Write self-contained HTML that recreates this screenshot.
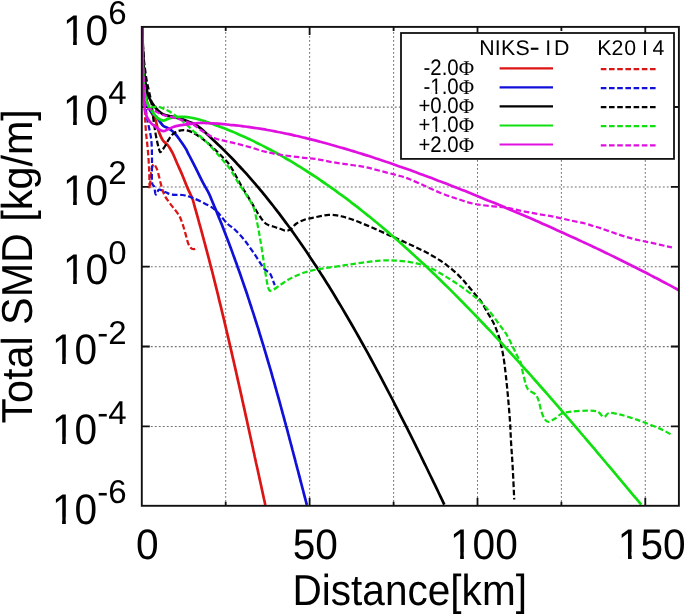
<!DOCTYPE html><html><head><meta charset="utf-8"><style>
html,body{margin:0;padding:0;background:#fff;}
body{width:685px;height:616px;overflow:hidden;}
svg{display:block;font-family:"Liberation Sans",sans-serif;text-rendering:geometricPrecision;}
</style></head><body><div style="will-change:transform;width:685px;height:616px">
<svg width="685" height="616" viewBox="0 0 685 616">
<rect width="685" height="616" fill="#fff"/>
<path d="M225.7,27.9V504.8 M309.6,27.9V504.8 M393.6,27.9V504.8 M477.5,27.9V504.8 M561.4,27.9V504.8 M645.3,27.9V504.8 M142.8,107.1H677.9 M142.8,186.9H677.9 M142.8,266.8H677.9 M142.8,346.6H677.9 M142.8,426.4H677.9" stroke="#747474" stroke-width="1.05" stroke-dasharray="1.9 2.1" fill="none"/>
<path d="M309.6,505.8V497.8 M309.6,26.9V34.9 M477.5,505.8V497.8 M477.5,26.9V34.9 M645.3,505.8V497.8 M645.3,26.9V34.9 M225.7,505.8V501.8 M225.7,26.9V30.9 M393.6,505.8V501.8 M393.6,26.9V30.9 M561.4,505.8V501.8 M561.4,26.9V30.9 M141.8,107.0H149.8 M678.9,107.0H670.9 M141.8,186.8H149.8 M678.9,186.8H670.9 M141.8,266.7H149.8 M678.9,266.7H670.9 M141.8,346.5H149.8 M678.9,346.5H670.9 M141.8,426.3H149.8 M678.9,426.3H670.9" stroke="#111" stroke-width="1.8" fill="none"/>
<defs><clipPath id="c"><rect x="141.8" y="26.9" width="537.1" height="478.9"/></clipPath></defs>
<g clip-path="url(#c)" fill="none" stroke-width="2.7" stroke-linejoin="round">
<path d="M142.0,27.0 C142.2,32.5 142.8,49.8 143.3,60.0 C143.8,70.2 144.3,80.7 145.0,88.0 C145.7,95.3 146.4,99.8 147.5,104.0 C148.6,108.2 150.3,110.2 151.7,113.0 C153.0,115.8 154.6,118.0 155.6,120.5 C156.6,123.0 156.8,125.6 157.6,128.0 C158.4,130.4 159.3,133.0 160.2,135.1 C161.1,137.2 161.9,139.0 162.8,140.3 C163.7,141.6 164.5,142.0 165.4,142.9 C166.3,143.8 167.1,144.4 168.0,145.5 C168.9,146.6 169.7,148.0 170.6,149.4 C171.5,150.8 172.1,151.8 173.2,154.2 C174.3,156.6 175.8,160.2 177.3,163.8 C178.9,167.4 180.8,171.4 182.5,175.5 C184.2,179.6 186.0,184.5 187.7,188.4 C189.4,192.3 191.4,196.1 192.4,198.8 C193.5,201.5 193.6,202.8 194.2,204.8 C194.7,206.8 195.3,208.8 195.9,210.8 C196.4,212.8 197.0,214.8 197.6,216.8 C198.1,218.8 198.7,220.8 199.2,222.8 C199.8,224.8 200.3,226.8 200.9,228.8 C201.4,230.8 202.0,232.8 202.5,234.8 C203.0,236.8 203.6,238.8 204.1,240.8 C204.7,242.8 205.2,244.8 205.7,246.8 C206.2,248.8 206.8,250.8 207.3,252.8 C207.8,254.8 208.3,256.8 208.9,258.8 C209.4,260.8 209.9,262.8 210.4,264.8 C210.9,266.8 211.4,268.8 212.0,270.8 C212.5,272.8 213.0,274.8 213.5,276.9 C214.0,278.9 214.5,280.9 215.0,282.9 C215.5,284.9 216.0,286.9 216.5,288.9 C217.0,290.9 217.5,292.9 218.0,294.9 C218.5,296.9 218.9,298.9 219.4,300.9 C219.9,302.9 220.4,304.9 220.9,306.9 C221.4,308.9 221.9,310.9 222.3,312.9 C222.8,314.9 223.3,316.9 223.8,318.9 C224.3,320.9 224.7,322.9 225.2,324.9 C225.7,326.9 226.1,328.9 226.6,330.9 C227.1,332.9 227.6,334.9 228.0,336.9 C228.5,338.9 229.0,340.9 229.4,342.9 C229.9,344.9 230.3,346.9 230.8,348.9 C231.3,350.9 231.7,352.9 232.2,354.9 C232.6,356.9 233.1,358.9 233.6,360.9 C234.0,362.9 234.5,364.9 234.9,366.9 C235.4,368.9 235.8,370.9 236.3,372.9 C236.7,374.9 237.2,376.9 237.6,378.9 C238.1,380.9 238.5,382.9 239.0,384.9 C239.4,386.9 239.9,388.9 240.3,390.9 C240.8,392.9 241.2,394.9 241.7,396.9 C242.1,398.9 242.5,400.9 243.0,402.9 C243.4,404.9 243.9,406.9 244.3,408.9 C244.8,410.9 245.2,412.9 245.6,414.9 C246.1,416.9 246.5,418.9 247.0,420.9 C247.4,422.9 247.8,424.9 248.3,426.9 C248.7,429.0 249.2,431.0 249.6,433.0 C250.0,435.0 250.5,437.0 250.9,439.0 C251.3,441.0 251.8,443.0 252.2,445.0 C252.7,447.0 253.1,449.0 253.5,451.0 C254.0,453.0 254.4,455.0 254.8,457.0 C255.3,459.0 255.7,461.0 256.1,463.0 C256.6,465.0 257.0,467.0 257.5,469.0 C257.9,471.0 258.3,473.0 258.8,475.0 C259.2,477.0 259.6,479.0 260.1,481.0 C260.5,483.0 261.0,485.0 261.4,487.0 C261.8,489.0 262.3,491.0 262.7,493.0 C263.1,495.0 263.6,497.0 264.0,499.0 C264.5,501.0 265.1,504.0 265.3,505.0" stroke="#dc1414"/>
<path d="M142.0,27.0 C142.2,34.2 143.0,56.2 143.5,70.0 C144.0,83.8 144.4,100.0 144.8,110.0 C145.2,120.0 145.3,123.4 145.8,130.0 C146.3,136.6 147.2,143.0 147.8,149.5 C148.4,156.0 148.8,162.5 149.1,169.0 C149.4,175.5 149.4,187.8 149.7,188.4 C150.0,189.1 150.4,176.9 151.0,172.9 C151.6,168.9 152.5,165.5 153.3,164.4 C154.1,163.3 154.8,165.2 155.6,166.4 C156.3,167.6 156.9,168.6 157.8,171.6 C158.7,174.6 159.9,180.6 161.0,184.5 C162.1,188.4 162.9,191.9 164.3,194.9 C165.7,197.9 167.7,200.2 169.5,202.7 C171.3,205.2 173.2,207.4 174.9,209.7 C176.6,212.0 178.4,214.2 179.7,216.6 C181.0,219.0 181.7,221.4 182.7,224.3 C183.7,227.2 184.7,231.0 185.6,234.1 C186.5,237.2 187.2,240.6 188.0,242.8 C188.8,245.0 189.5,246.4 190.4,247.5 C191.3,248.6 192.2,249.2 193.4,249.2 C194.6,249.2 197.1,247.8 197.8,247.5" stroke="#dc1414" stroke-width="2.25" stroke-dasharray="5.6 2.6"/>
<path d="M142.0,27.0 C142.2,33.3 142.8,54.2 143.3,65.0 C143.8,75.8 144.1,85.3 144.8,92.0 C145.5,98.7 146.6,101.8 147.5,105.0 C148.4,108.2 149.5,109.4 150.5,111.0 C151.5,112.6 152.4,113.4 153.5,114.5 C154.6,115.6 155.9,116.2 157.0,117.5 C158.1,118.8 159.1,120.7 160.2,122.1 C161.3,123.5 162.1,125.0 163.4,126.0 C164.7,127.0 166.6,127.4 168.0,128.2 C169.4,129.0 170.6,129.8 171.9,130.8 C173.2,131.9 174.5,133.0 175.8,134.5 C177.1,136.0 178.5,138.1 179.7,139.7 C180.9,141.3 181.8,142.6 182.9,144.2 C184.0,145.8 185.2,147.6 186.2,149.4 C187.2,151.2 187.4,151.9 189.0,155.0 C190.6,158.1 193.3,163.4 195.5,167.7 C197.7,172.0 199.7,176.3 201.9,180.6 C204.1,184.9 207.4,190.4 209.0,193.6 C210.6,196.8 210.7,197.7 211.6,199.7 C212.4,201.7 213.3,203.8 214.1,205.8 C215.0,207.8 215.8,209.9 216.7,211.9 C217.5,214.0 218.3,216.0 219.1,218.0 C220.0,220.1 220.8,222.1 221.6,224.1 C222.4,226.2 223.2,228.2 224.0,230.2 C224.8,232.3 225.6,234.3 226.3,236.3 C227.1,238.4 227.9,240.4 228.7,242.4 C229.4,244.5 230.2,246.5 231.0,248.6 C231.7,250.6 232.5,252.6 233.2,254.7 C234.0,256.7 234.7,258.7 235.4,260.8 C236.2,262.8 236.9,264.8 237.6,266.9 C238.4,268.9 239.1,270.9 239.8,273.0 C240.5,275.0 241.2,277.0 241.9,279.1 C242.6,281.1 243.3,283.2 244.0,285.2 C244.7,287.2 245.4,289.3 246.1,291.3 C246.8,293.3 247.5,295.4 248.1,297.4 C248.8,299.4 249.5,301.5 250.1,303.5 C250.8,305.5 251.5,307.6 252.1,309.6 C252.8,311.6 253.5,313.7 254.1,315.7 C254.8,317.8 255.4,319.8 256.0,321.8 C256.7,323.9 257.3,325.9 258.0,327.9 C258.6,330.0 259.2,332.0 259.8,334.0 C260.5,336.1 261.1,338.1 261.7,340.1 C262.3,342.2 263.0,344.2 263.6,346.2 C264.2,348.3 264.8,350.3 265.4,352.4 C266.0,354.4 266.6,356.4 267.2,358.5 C267.8,360.5 268.4,362.5 269.0,364.6 C269.6,366.6 270.2,368.6 270.8,370.7 C271.4,372.7 271.9,374.7 272.5,376.8 C273.1,378.8 273.7,380.8 274.3,382.9 C274.8,384.9 275.4,387.0 276.0,389.0 C276.5,391.0 277.1,393.1 277.7,395.1 C278.3,397.1 278.8,399.2 279.4,401.2 C279.9,403.2 280.5,405.3 281.1,407.3 C281.6,409.3 282.2,411.4 282.7,413.4 C283.3,415.4 283.8,417.5 284.4,419.5 C284.9,421.6 285.5,423.6 286.0,425.6 C286.6,427.7 287.1,429.7 287.7,431.7 C288.2,433.8 288.8,435.8 289.3,437.8 C289.8,439.9 290.4,441.9 290.9,443.9 C291.5,446.0 292.0,448.0 292.5,450.0 C293.1,452.1 293.6,454.1 294.1,456.2 C294.7,458.2 295.2,460.2 295.7,462.3 C296.3,464.3 296.8,466.3 297.3,468.4 C297.9,470.4 298.4,472.4 298.9,474.5 C299.5,476.5 300.0,478.5 300.5,480.6 C301.0,482.6 301.6,484.6 302.1,486.7 C302.6,488.7 303.2,490.8 303.7,492.8 C304.2,494.8 304.7,496.9 305.3,498.9 C305.8,500.9 306.6,504.0 306.9,505.0" stroke="#1010d8"/>
<path d="M142.0,27.0 C142.3,34.2 143.3,56.2 144.0,70.0 C144.7,83.8 145.2,100.8 146.0,110.0 C146.8,119.2 147.6,120.0 148.5,125.0 C149.4,130.0 150.7,134.2 151.3,140.0 C151.9,145.8 151.9,153.0 152.0,160.0 C152.1,167.0 151.6,177.5 152.0,182.0 C152.4,186.5 153.7,185.0 154.3,187.1 C154.9,189.2 155.0,194.1 155.8,194.5 C156.6,194.9 157.5,190.1 159.1,189.7 C160.7,189.3 163.4,191.5 165.6,192.3 C167.8,193.1 169.3,194.2 172.1,194.6 C174.9,195.0 179.2,194.5 182.5,195.0 C185.8,195.5 188.3,196.3 191.6,197.5 C194.8,198.7 198.3,200.3 202.0,202.1 C205.7,203.9 210.6,206.3 213.6,208.5 C216.6,210.7 217.7,212.4 220.0,215.0 C222.3,217.6 225.2,221.6 227.7,224.0 C230.2,226.4 232.2,227.0 235.0,229.7 C237.8,232.4 241.4,236.3 244.7,240.4 C247.9,244.5 251.2,249.4 254.5,254.1 C257.8,258.8 261.6,265.4 264.2,268.7 C266.8,271.9 268.5,271.2 270.1,273.6 C271.7,276.0 273.2,281.4 274.0,283.3 C274.8,285.2 274.8,284.7 275.0,285.0" stroke="#1010d8" stroke-width="2.25" stroke-dasharray="5.6 2.6"/>
<path d="M142.0,27.0 C142.1,30.8 142.6,43.7 142.8,50.0 C143.1,56.3 143.1,60.0 143.5,65.0 C143.9,70.0 144.3,75.3 145.0,80.0 C145.7,84.7 146.5,89.5 147.5,93.0 C148.5,96.5 149.6,98.8 150.8,101.0 C152.0,103.2 153.3,104.8 154.6,106.5 C155.9,108.2 157.0,109.7 158.5,111.0 C160.0,112.3 161.6,113.7 163.4,114.5 C165.2,115.3 167.3,115.5 169.2,116.0 C171.1,116.5 173.0,116.8 175.0,117.3 C177.0,117.8 178.9,118.2 181.0,118.9 C183.1,119.6 185.3,120.5 187.5,121.3 C189.7,122.1 191.9,122.7 194.0,123.8 C196.1,124.9 198.0,126.3 200.0,127.9 C202.0,129.5 204.1,131.5 206.1,133.3 C208.1,135.1 210.2,137.0 212.2,138.9 C214.3,140.8 216.3,142.7 218.3,144.7 C220.4,146.6 222.4,148.6 224.4,150.6 C226.5,152.7 228.5,154.7 230.5,156.8 C232.6,158.9 234.6,161.0 236.6,163.2 C238.7,165.4 240.7,167.6 242.8,169.8 C244.8,172.0 246.8,174.3 248.9,176.6 C250.9,178.9 252.9,181.2 255.0,183.6 C257.0,186.0 259.0,188.4 261.1,190.9 C263.1,193.3 265.1,195.8 267.2,198.3 C269.2,200.8 271.3,203.4 273.3,206.0 C275.3,208.6 277.4,211.2 279.4,213.9 C281.4,216.6 283.5,219.3 285.5,222.1 C287.5,224.8 289.6,227.6 291.6,230.4 C293.6,233.2 295.7,236.1 297.7,239.0 C299.8,241.9 301.8,244.9 303.8,247.8 C305.9,250.8 307.9,253.8 309.9,256.9 C312.0,259.9 314.0,263.0 316.0,266.1 C318.1,269.3 320.1,272.4 322.1,275.6 C324.2,278.8 326.2,282.0 328.3,285.3 C330.3,288.6 332.3,291.9 334.4,295.2 C336.4,298.6 338.4,302.0 340.5,305.4 C342.5,308.8 344.5,312.2 346.6,315.7 C348.6,319.2 350.7,322.7 352.7,326.2 C354.7,329.8 356.8,333.4 358.8,337.0 C360.8,340.6 362.9,344.2 364.9,347.9 C366.9,351.6 369.0,355.3 371.0,359.0 C373.0,362.8 375.1,366.6 377.1,370.4 C379.2,374.2 381.2,378.0 383.2,381.8 C385.3,385.7 387.3,389.6 389.3,393.5 C391.4,397.4 393.4,401.3 395.4,405.3 C397.5,409.3 399.5,413.3 401.5,417.3 C403.6,421.3 405.6,425.3 407.7,429.4 C409.7,433.4 411.7,437.5 413.8,441.6 C415.8,445.7 417.8,449.9 419.9,454.0 C421.9,458.1 423.9,462.3 426.0,466.5 C428.0,470.7 430.0,474.9 432.1,479.1 C434.1,483.3 436.2,487.5 438.2,491.8 C440.2,496.0 443.3,502.4 444.3,504.6" stroke="#000000"/>
<path d="M142.0,27.0 C142.1,29.2 142.6,35.3 142.8,40.0 C143.1,44.7 143.2,50.8 143.5,55.0 C143.8,59.2 144.0,60.9 144.5,65.0 C145.0,69.1 145.8,75.3 146.5,79.5 C147.2,83.7 148.1,87.1 148.7,90.0 C149.3,92.9 149.8,94.8 150.3,97.0 C150.8,99.2 151.1,100.5 151.5,103.0 C151.9,105.5 152.1,108.8 152.5,112.0 C152.9,115.2 153.3,118.7 153.8,122.0 C154.3,125.3 154.8,128.8 155.3,132.0 C155.8,135.2 156.4,138.2 157.0,141.0 C157.6,143.8 158.4,146.9 158.9,148.8 C159.4,150.7 159.7,151.9 160.2,152.2 C160.7,152.4 161.2,151.4 162.1,150.3 C163.0,149.2 164.3,147.3 165.4,145.5 C166.5,143.7 167.5,141.4 168.6,139.7 C169.7,138.0 170.7,136.4 171.9,135.1 C173.1,133.8 174.3,132.7 175.8,131.9 C177.3,131.1 179.3,130.6 181.0,130.3 C182.7,130.0 184.5,130.0 186.2,130.3 C187.9,130.6 189.9,131.3 191.4,131.9 C192.9,132.5 192.8,132.4 195.0,133.8 C197.2,135.2 201.2,137.8 204.5,140.4 C207.8,143.0 211.9,146.7 214.9,149.5 C217.9,152.3 220.2,154.6 222.7,157.3 C225.2,160.0 227.0,161.0 230.0,165.5 C233.0,170.0 237.5,179.1 240.6,184.5 C243.7,189.9 246.3,193.9 248.7,197.9 C251.1,201.9 253.1,205.3 255.0,208.5 C256.9,211.7 258.4,214.4 260.3,217.0 C262.2,219.6 263.9,222.3 266.2,223.9 C268.5,225.5 271.7,226.0 274.0,226.8 C276.3,227.6 277.9,228.0 280.0,228.7 C282.1,229.4 284.6,230.8 286.5,230.8 C288.4,230.8 289.8,229.9 291.4,228.7 C293.0,227.5 294.0,225.3 296.2,223.8 C298.4,222.3 301.7,220.7 304.4,219.7 C307.1,218.7 309.8,218.4 312.5,217.8 C315.2,217.2 317.9,216.7 320.6,216.2 C323.3,215.7 326.0,215.0 328.7,214.9 C331.4,214.8 334.4,215.0 336.8,215.3 C339.2,215.6 340.9,216.2 343.0,216.7 C345.0,217.2 347.1,217.9 349.1,218.5 C351.2,219.2 353.2,219.9 355.3,220.7 C357.3,221.4 359.4,222.2 361.4,223.1 C363.5,223.9 365.5,224.8 367.6,225.6 C369.6,226.5 371.7,227.4 373.7,228.3 C375.8,229.2 377.8,230.1 379.9,231.0 C381.9,231.9 384.0,232.8 386.0,233.7 C388.1,234.7 390.1,235.6 392.2,236.5 C394.2,237.4 396.3,238.3 398.3,239.2 C400.4,240.1 402.4,241.1 404.5,242.0 C406.5,242.9 408.6,243.8 410.6,244.8 C412.7,245.7 414.7,246.7 416.8,247.7 C418.8,248.7 420.9,249.7 422.9,250.7 C425.0,251.7 427.0,252.8 429.1,253.9 C431.1,255.0 433.2,256.2 435.2,257.4 C437.3,258.7 439.3,260.0 441.4,261.3 C443.4,262.7 445.5,264.2 447.5,265.8 C449.6,267.3 451.6,269.0 453.7,270.8 C455.7,272.6 457.8,274.5 459.8,276.6 C461.9,278.7 463.6,280.6 466.0,283.4 C468.4,286.1 471.7,290.1 474.2,293.1 C476.7,296.1 478.9,298.1 481.1,301.4 C483.3,304.7 485.4,308.9 487.6,312.7 C489.8,316.5 492.2,320.0 494.1,324.1 C496.0,328.2 497.6,332.8 499.0,337.1 C500.4,341.4 501.3,345.5 502.2,350.1 C503.1,354.7 503.8,358.5 504.6,364.7 C505.4,370.9 506.2,378.4 507.1,387.4 C508.0,396.4 509.1,409.4 509.8,418.7 C510.5,428.0 510.6,435.0 511.1,443.1 C511.6,451.2 512.2,458.0 512.7,467.4 C513.2,476.8 514.0,494.1 514.2,499.5" stroke="#000000" stroke-width="2.25" stroke-dasharray="5.6 2.6"/>
<path d="M142.0,27.0 C142.2,34.2 142.5,58.7 143.0,70.0 C143.5,81.3 144.1,89.0 145.0,95.0 C145.9,101.0 147.4,103.4 148.5,106.0 C149.6,108.6 150.4,109.0 151.5,110.5 C152.6,112.0 153.8,113.9 155.0,115.3 C156.2,116.7 157.5,118.0 158.9,118.9 C160.3,119.8 161.9,120.6 163.4,120.6 C164.9,120.6 166.2,119.5 168.0,118.9 C169.8,118.3 171.9,117.4 174.5,117.1 C177.1,116.8 181.2,116.8 183.8,116.9 C186.4,117.0 187.3,117.0 190.0,117.5 C192.7,118.0 197.3,119.0 200.0,119.7 C202.7,120.4 204.0,121.0 206.0,121.7 C208.1,122.4 210.1,123.1 212.1,123.8 C214.1,124.5 216.1,125.3 218.1,126.0 C220.2,126.8 222.2,127.5 224.2,128.3 C226.2,129.1 228.2,129.9 230.2,130.8 C232.2,131.6 234.3,132.4 236.3,133.3 C238.3,134.2 240.3,135.1 242.3,136.0 C244.3,136.9 246.3,137.8 248.4,138.7 C250.4,139.7 252.4,140.6 254.4,141.6 C256.4,142.6 258.4,143.6 260.5,144.6 C262.5,145.6 264.5,146.7 266.5,147.7 C268.5,148.8 270.5,149.8 272.5,150.9 C274.6,152.0 276.6,153.1 278.6,154.2 C280.6,155.4 282.6,156.5 284.6,157.7 C286.6,158.8 288.7,160.0 290.7,161.2 C292.7,162.4 294.7,163.6 296.7,164.9 C298.7,166.1 300.8,167.3 302.8,168.6 C304.8,169.9 306.8,171.2 308.8,172.5 C310.8,173.8 312.8,175.1 314.9,176.4 C316.9,177.8 318.9,179.1 320.9,180.5 C322.9,181.8 324.9,183.2 326.9,184.6 C329.0,186.0 331.0,187.5 333.0,188.9 C335.0,190.3 337.0,191.8 339.0,193.3 C341.1,194.7 343.1,196.2 345.1,197.7 C347.1,199.2 349.1,200.7 351.1,202.3 C353.1,203.8 355.2,205.4 357.2,206.9 C359.2,208.5 361.2,210.1 363.2,211.7 C365.2,213.3 367.3,214.9 369.3,216.5 C371.3,218.2 373.3,219.8 375.3,221.5 C377.3,223.1 379.3,224.8 381.4,226.5 C383.4,228.2 385.4,229.9 387.4,231.6 C389.4,233.3 391.4,235.1 393.4,236.8 C395.5,238.6 397.5,240.3 399.5,242.1 C401.5,243.9 403.5,245.7 405.5,247.5 C407.6,249.3 409.6,251.1 411.6,253.0 C413.6,254.8 415.6,256.6 417.6,258.5 C419.6,260.4 421.7,262.2 423.7,264.1 C425.7,266.0 427.7,267.9 429.7,269.8 C431.7,271.8 433.7,273.7 435.8,275.6 C437.8,277.6 439.8,279.5 441.8,281.5 C443.8,283.5 445.8,285.4 447.9,287.4 C449.9,289.4 451.9,291.4 453.9,293.4 C455.9,295.5 457.9,297.5 459.9,299.5 C462.0,301.6 464.0,303.6 466.0,305.7 C468.0,307.7 470.0,309.8 472.0,311.9 C474.0,314.0 476.1,316.1 478.1,318.2 C480.1,320.3 482.1,322.4 484.1,324.5 C486.1,326.6 488.2,328.8 490.2,330.9 C492.2,333.1 494.2,335.2 496.2,337.4 C498.2,339.6 500.2,341.7 502.3,343.9 C504.3,346.1 506.3,348.3 508.3,350.5 C510.3,352.7 512.3,354.9 514.4,357.1 C516.4,359.3 518.4,361.6 520.4,363.8 C522.4,366.0 524.4,368.3 526.4,370.5 C528.5,372.8 530.5,375.1 532.5,377.3 C534.5,379.6 536.5,381.9 538.5,384.2 C540.5,386.4 542.6,388.7 544.6,391.0 C546.6,393.3 548.6,395.6 550.6,397.9 C552.6,400.2 554.7,402.6 556.7,404.9 C558.7,407.2 560.7,409.5 562.7,411.9 C564.7,414.2 566.7,416.5 568.8,418.9 C570.8,421.2 572.8,423.6 574.8,425.9 C576.8,428.3 578.8,430.6 580.8,433.0 C582.9,435.4 584.9,437.7 586.9,440.1 C588.9,442.5 590.9,444.8 592.9,447.2 C595.0,449.6 597.0,452.0 599.0,454.3 C601.0,456.7 603.0,459.1 605.0,461.5 C607.0,463.9 609.1,466.3 611.1,468.7 C613.1,471.1 615.1,473.5 617.1,475.9 C619.1,478.3 621.1,480.7 623.2,483.1 C625.2,485.5 627.2,487.9 629.2,490.3 C631.2,492.7 633.2,495.1 635.3,497.5 C637.3,499.9 640.3,503.5 641.3,504.7" stroke="#10e010"/>
<path d="M142.0,27.0 C142.2,34.2 142.6,58.2 143.2,70.0 C143.8,81.8 144.5,92.1 145.5,98.0 C146.5,103.9 147.8,104.0 149.0,105.5 C150.2,107.0 151.3,107.0 152.7,107.2 C154.1,107.4 155.7,106.5 157.5,106.7 C159.3,106.9 161.1,107.6 163.4,108.6 C165.7,109.6 168.8,111.0 171.2,112.5 C173.6,114.0 176.1,116.1 178.0,117.6 C179.9,119.1 181.1,120.0 182.9,121.5 C184.7,123.0 187.0,125.0 188.8,126.7 C190.7,128.4 191.8,129.8 194.0,131.7 C196.2,133.5 198.9,135.1 202.0,137.8 C205.1,140.6 209.1,144.7 212.3,148.2 C215.5,151.7 218.5,155.1 221.4,158.6 C224.3,162.1 227.1,164.8 230.0,169.0 C232.9,173.2 236.1,179.5 238.9,183.9 C241.7,188.3 244.3,191.7 246.7,195.6 C249.1,199.5 251.9,203.4 253.5,207.3 C255.1,211.2 255.4,214.4 256.4,219.0 C257.4,223.6 258.4,229.1 259.4,234.6 C260.4,240.1 261.3,245.9 262.3,252.1 C263.3,258.3 264.2,265.8 265.2,271.6 C266.2,277.5 267.1,284.0 268.1,287.2 C269.1,290.4 269.2,291.0 271.1,290.7 C273.1,290.4 277.0,287.1 279.8,285.3 C282.6,283.5 285.4,281.4 288.1,279.8 C290.8,278.2 293.5,276.9 296.2,275.7 C298.9,274.5 301.7,273.4 304.4,272.5 C307.1,271.6 309.8,271.0 312.5,270.4 C315.2,269.8 317.9,269.3 320.6,268.8 C323.3,268.3 324.6,268.2 328.7,267.6 C332.8,267.0 339.5,266.0 344.9,265.2 C350.3,264.4 355.3,263.6 361.2,262.8 C367.1,262.0 374.2,261.0 380.0,260.6 C385.8,260.2 390.8,260.3 396.2,260.6 C401.6,260.9 407.1,261.4 412.5,262.5 C417.9,263.6 423.3,264.9 428.7,267.1 C434.1,269.4 439.5,272.8 444.9,276.0 C450.3,279.2 456.3,283.2 461.2,286.6 C466.1,290.0 471.1,293.9 474.2,296.3 C477.3,298.7 477.5,298.7 480.0,301.2 C482.5,303.7 486.0,307.3 489.2,311.1 C492.4,314.9 496.0,320.0 499.0,324.1 C502.0,328.2 504.7,331.4 507.1,335.5 C509.5,339.6 511.7,344.6 513.6,348.4 C515.5,352.2 517.2,355.8 518.4,358.2 C519.6,360.6 520.2,360.9 520.9,363.1 C521.6,365.3 521.8,368.2 522.5,371.2 C523.2,374.2 524.2,378.4 524.9,381.0 C525.6,383.6 525.8,384.9 526.5,386.5 C527.2,388.1 527.5,389.0 529.0,390.3 C530.5,391.6 533.9,392.6 535.5,394.4 C537.1,396.1 537.8,398.1 538.7,400.8 C539.6,403.5 540.2,407.6 541.1,410.6 C542.0,413.6 543.2,416.8 544.4,418.7 C545.6,420.6 546.6,421.9 548.4,421.9 C550.1,421.9 552.7,420.0 554.9,418.7 C557.1,417.4 558.7,415.0 561.4,413.8 C564.1,412.6 567.0,412.2 571.2,411.7 C575.4,411.2 582.4,410.7 586.8,410.7 C591.2,410.7 594.7,410.6 597.5,411.6 C600.3,412.7 601.9,416.8 603.8,417.0 C605.7,417.2 606.6,413.3 609.1,412.9 C611.6,412.4 615.2,413.5 618.9,414.3 C622.6,415.1 627.2,416.6 631.4,417.9 C635.6,419.2 639.1,420.5 643.9,422.3 C648.7,424.1 655.5,426.6 660.0,428.6 C664.5,430.6 669.2,433.5 671.0,434.5" stroke="#10e010" stroke-width="2.25" stroke-dasharray="5.6 2.6"/>
<path d="M142.0,27.0 C142.1,32.5 142.2,50.3 142.3,60.0 C142.5,69.7 142.6,77.8 142.9,85.0 C143.2,92.2 143.4,97.9 144.0,103.0 C144.6,108.1 145.2,112.2 146.3,115.5 C147.4,118.8 149.1,120.7 150.5,122.5 C151.9,124.3 153.6,125.1 155.0,126.2 C156.4,127.3 157.5,128.5 158.9,129.3 C160.3,130.1 161.9,131.2 163.4,131.2 C164.9,131.2 166.4,130.0 168.0,129.3 C169.6,128.6 171.2,127.7 173.2,127.0 C175.1,126.3 177.5,125.8 179.7,125.4 C181.9,125.0 183.6,124.7 186.2,124.4 C188.8,124.1 192.7,123.7 195.0,123.4 C197.3,123.1 198.2,122.9 200.0,122.9 C201.8,122.8 204.0,123.0 206.0,123.1 C208.0,123.2 210.0,123.3 212.0,123.4 C214.0,123.5 216.0,123.6 218.0,123.7 C220.0,123.9 222.0,124.0 224.0,124.2 C226.0,124.4 228.0,124.6 230.0,124.8 C232.0,124.9 234.0,125.2 236.0,125.4 C238.0,125.6 240.0,125.8 242.0,126.1 C244.0,126.4 246.0,126.6 248.0,126.9 C250.0,127.2 252.0,127.5 254.0,127.8 C256.0,128.1 258.0,128.4 260.0,128.7 C262.0,129.0 264.0,129.4 266.0,129.7 C268.0,130.1 270.0,130.4 272.0,130.8 C274.0,131.2 276.0,131.6 278.0,132.0 C280.0,132.3 282.0,132.8 284.0,133.2 C286.0,133.6 288.0,134.0 290.0,134.4 C292.0,134.9 294.0,135.3 296.0,135.8 C298.0,136.2 300.0,136.7 302.0,137.2 C304.0,137.7 306.0,138.1 308.0,138.6 C310.0,139.1 312.0,139.6 314.0,140.1 C316.0,140.6 318.0,141.2 320.0,141.7 C322.0,142.2 324.0,142.8 326.0,143.3 C328.0,143.8 330.0,144.4 332.0,145.0 C334.0,145.5 336.0,146.1 338.0,146.7 C340.0,147.2 342.0,147.8 344.0,148.4 C346.0,149.0 348.0,149.6 350.0,150.2 C352.0,150.8 354.0,151.4 356.0,152.0 C358.0,152.6 360.0,153.3 362.0,153.9 C364.0,154.5 366.0,155.2 368.0,155.8 C370.0,156.4 372.0,157.1 374.0,157.8 C376.0,158.4 378.0,159.1 380.0,159.7 C382.0,160.4 384.0,161.1 386.0,161.8 C388.0,162.4 390.0,163.1 392.0,163.8 C394.0,164.5 396.0,165.2 398.0,165.9 C400.0,166.6 402.0,167.3 404.0,168.0 C406.0,168.7 408.0,169.4 410.0,170.1 C412.0,170.9 414.0,171.6 416.0,172.3 C418.0,173.0 420.0,173.8 422.0,174.5 C424.0,175.3 426.0,176.0 428.0,176.7 C430.0,177.5 432.0,178.2 434.0,179.0 C436.0,179.8 438.0,180.5 440.0,181.3 C442.0,182.0 444.0,182.8 446.0,183.6 C448.0,184.4 450.0,185.1 452.0,185.9 C454.0,186.7 456.0,187.5 458.0,188.3 C460.0,189.1 462.0,189.8 464.0,190.6 C466.0,191.4 468.0,192.2 470.0,193.0 C472.0,193.8 474.0,194.6 476.0,195.5 C478.0,196.3 480.0,197.1 482.0,197.9 C484.0,198.7 486.0,199.5 488.0,200.4 C490.0,201.2 492.0,202.0 494.0,202.8 C496.0,203.7 498.0,204.5 500.0,205.3 C502.0,206.2 504.0,207.0 506.0,207.9 C508.0,208.7 510.0,209.6 512.0,210.4 C514.0,211.3 516.0,212.1 518.0,213.0 C520.0,213.8 522.0,214.7 524.0,215.5 C526.0,216.4 528.0,217.3 530.0,218.1 C532.0,219.0 534.0,219.9 536.0,220.8 C538.0,221.6 540.0,222.5 542.0,223.4 C544.0,224.3 546.0,225.2 548.0,226.1 C550.0,227.0 552.0,227.9 554.0,228.8 C556.0,229.7 558.0,230.6 560.0,231.5 C562.0,232.4 564.0,233.3 566.0,234.2 C568.0,235.1 570.0,236.0 572.0,236.9 C574.0,237.8 576.0,238.8 578.0,239.7 C580.0,240.6 582.0,241.6 584.0,242.5 C586.0,243.4 588.0,244.4 590.0,245.3 C592.0,246.2 594.0,247.2 596.0,248.1 C598.0,249.1 600.0,250.0 602.0,251.0 C604.0,252.0 606.0,252.9 608.0,253.9 C610.0,254.9 612.0,255.8 614.0,256.8 C616.0,257.8 618.0,258.8 620.0,259.7 C622.0,260.7 624.0,261.7 626.0,262.7 C628.0,263.7 630.0,264.7 632.0,265.7 C634.0,266.7 636.0,267.7 638.0,268.7 C640.0,269.7 642.0,270.8 644.0,271.8 C646.0,272.8 648.0,273.8 650.0,274.9 C652.0,275.9 654.0,277.0 656.0,278.0 C658.0,279.0 660.0,280.1 662.0,281.2 C664.0,282.2 666.0,283.3 668.0,284.4 C670.0,285.4 672.0,286.5 674.0,287.6 C676.0,288.7 679.0,290.3 680.0,290.9" stroke="#e010e0"/>
<path d="M142.0,27.0 C142.1,30.0 142.3,38.7 142.5,45.0 C142.7,51.3 142.9,58.3 143.2,65.0 C143.4,71.7 143.8,79.2 144.0,85.0 C144.2,90.8 144.2,96.2 144.6,100.0 C145.0,103.8 145.6,106.5 146.5,108.0 C147.4,109.5 148.8,108.8 150.0,109.2 C151.2,109.6 152.0,109.5 153.6,110.2 C155.2,110.9 157.8,112.7 159.5,113.5 C161.2,114.3 162.4,114.8 164.0,115.3 C165.6,115.8 166.9,115.9 169.3,116.5 C171.7,117.1 175.4,118.1 178.4,119.0 C181.4,119.9 184.9,121.1 187.5,122.1 C190.1,123.1 191.9,123.8 194.0,125.0 C196.1,126.2 197.7,127.9 200.0,129.5 C202.3,131.1 205.4,133.1 208.1,134.6 C210.8,136.1 212.1,137.3 216.2,138.7 C220.3,140.0 227.1,141.3 232.5,142.7 C237.9,144.0 243.3,145.3 248.7,146.8 C254.1,148.3 259.5,150.3 264.9,151.7 C270.3,153.0 275.3,154.0 281.2,154.9 C287.1,155.8 294.2,156.6 300.0,157.3 C305.8,158.0 310.8,158.2 316.2,159.0 C321.6,159.8 327.1,161.3 332.5,162.2 C337.9,163.1 343.3,163.8 348.7,164.6 C354.1,165.4 359.5,166.0 364.9,167.1 C370.3,168.2 375.3,169.6 381.2,171.1 C387.1,172.6 395.2,174.7 400.0,176.0 C404.8,177.3 405.6,177.6 409.7,179.2 C413.8,180.8 419.2,183.4 424.4,185.7 C429.5,188.0 435.2,190.8 440.6,193.0 C446.0,195.2 451.4,196.9 456.8,198.7 C462.2,200.5 467.7,202.4 473.1,203.6 C478.5,204.8 483.8,205.3 489.3,206.0 C494.8,206.7 500.7,206.7 506.2,207.6 C511.7,208.5 517.1,210.1 522.5,211.2 C527.9,212.3 533.3,213.1 538.7,214.1 C544.1,215.1 549.5,215.9 554.9,217.0 C560.3,218.1 566.2,219.5 571.2,220.6 C576.2,221.7 581.4,222.6 585.0,223.5 C588.6,224.4 590.4,225.2 593.1,226.0 C595.8,226.8 597.1,227.1 601.2,228.4 C605.3,229.8 612.1,232.3 617.5,234.1 C622.9,235.9 628.3,237.6 633.7,239.0 C639.1,240.4 643.5,241.1 649.9,242.5 C656.3,243.9 668.2,246.6 671.9,247.4" stroke="#e010e0" stroke-width="2.25" stroke-dasharray="5.6 2.6"/>
</g>
<rect x="401.0" y="33.0" width="273.0" height="125.9" fill="#fff" stroke="#111" stroke-width="1.8"/>
<g font-size="21.3" letter-spacing="0.25">
<text x="479.2" y="54.8">NIKS</text>
</g>
<rect x="530.8" y="47.7" width="7.6" height="2.1" fill="#000"/>
<g font-size="21.3">
<text x="545.3" y="54.8">I</text><text x="553.9" y="54.8">D</text>
<text x="597.2" y="54.8">K</text><text x="611.4" y="54.8">2</text><text x="624.2" y="54.8">0</text><text x="642" y="54.8">I</text><text x="652.6" y="54.8">4</text>
</g>
<text transform="translate(423.53,75.30) scale(0.910,1.000)" font-size="22.4">-2.0</text>
<text x="458.65" y="75.3" font-size="21" font-family="Liberation Serif">&#934;</text>
<path d="M499.6,68.3H553" stroke="#dc1414" stroke-width="2.2"/>
<path d="M600.8,69.1H656" stroke="#dc1414" stroke-width="2.2" stroke-dasharray="5.6 2.6"/>
<clipPath id="k1"><path clip-rule="evenodd" d="M-500,-500H2000V500H-500Z M8.77,-3.61H13.06V3.00H8.77Z M15.10,-3.61H19.27V3.00H15.10Z"/></clipPath><text transform="translate(423.53,94.35) scale(0.910,1.000)" font-size="22.4" clip-path="url(#k1)">-1.0</text>
<text x="458.65" y="94.3" font-size="21" font-family="Liberation Serif">&#934;</text>
<path d="M499.6,87.3H553" stroke="#1010d8" stroke-width="2.2"/>
<path d="M600.8,88.1H656" stroke="#1010d8" stroke-width="2.2" stroke-dasharray="5.6 2.6"/>
<text transform="translate(418.41,113.40) scale(0.910,1.000)" font-size="22.4">+0.0</text>
<text x="458.65" y="113.4" font-size="21" font-family="Liberation Serif">&#934;</text>
<path d="M499.6,106.4H553" stroke="#000000" stroke-width="2.2"/>
<path d="M600.8,107.2H656" stroke="#000000" stroke-width="2.2" stroke-dasharray="5.6 2.6"/>
<clipPath id="k2"><path clip-rule="evenodd" d="M-500,-500H2000V500H-500Z M14.39,-3.61H18.68V3.00H14.39Z M20.73,-3.61H24.89V3.00H20.73Z"/></clipPath><text transform="translate(418.41,132.45) scale(0.910,1.000)" font-size="22.4" clip-path="url(#k2)">+1.0</text>
<text x="458.65" y="132.4" font-size="21" font-family="Liberation Serif">&#934;</text>
<path d="M499.6,125.5H553" stroke="#10e010" stroke-width="2.2"/>
<path d="M600.8,126.2H656" stroke="#10e010" stroke-width="2.2" stroke-dasharray="5.6 2.6"/>
<text transform="translate(418.41,151.50) scale(0.910,1.000)" font-size="22.4">+2.0</text>
<text x="458.65" y="151.5" font-size="21" font-family="Liberation Serif">&#934;</text>
<path d="M499.6,144.5H553" stroke="#e010e0" stroke-width="2.2"/>
<path d="M600.8,145.3H656" stroke="#e010e0" stroke-width="2.2" stroke-dasharray="5.6 2.6"/>
<rect x="141.8" y="26.9" width="537.1" height="478.9" fill="none" stroke="#111" stroke-width="1.9"/>
<text x="126.5" y="24.4" font-size="33" text-anchor="end">6</text>
<clipPath id="k3"><path clip-rule="evenodd" d="M-500,-500H2000V500H-500Z M2.51,-6.90H10.70V3.00H2.51Z M14.61,-6.90H22.57V3.00H14.61Z"/></clipPath><text transform="translate(62.93,44.90) scale(0.950,1.000)" font-size="42.8" clip-path="url(#k3)">10</text>
<text x="126.5" y="104.2" font-size="33" text-anchor="end">4</text>
<clipPath id="k4"><path clip-rule="evenodd" d="M-500,-500H2000V500H-500Z M2.51,-6.90H10.70V3.00H2.51Z M14.61,-6.90H22.57V3.00H14.61Z"/></clipPath><text transform="translate(62.93,124.72) scale(0.950,1.000)" font-size="42.8" clip-path="url(#k4)">10</text>
<text x="126.5" y="184.0" font-size="33" text-anchor="end">2</text>
<clipPath id="k5"><path clip-rule="evenodd" d="M-500,-500H2000V500H-500Z M2.51,-6.90H10.70V3.00H2.51Z M14.61,-6.90H22.57V3.00H14.61Z"/></clipPath><text transform="translate(62.93,204.53) scale(0.950,1.000)" font-size="42.8" clip-path="url(#k5)">10</text>
<text x="126.5" y="263.9" font-size="33" text-anchor="end">0</text>
<clipPath id="k6"><path clip-rule="evenodd" d="M-500,-500H2000V500H-500Z M2.51,-6.90H10.70V3.00H2.51Z M14.61,-6.90H22.57V3.00H14.61Z"/></clipPath><text transform="translate(62.93,284.35) scale(0.950,1.000)" font-size="42.8" clip-path="url(#k6)">10</text>
<text x="126.5" y="343.7" font-size="33" text-anchor="end">-2</text>
<clipPath id="k7"><path clip-rule="evenodd" d="M-500,-500H2000V500H-500Z M2.51,-6.90H10.70V3.00H2.51Z M14.61,-6.90H22.57V3.00H14.61Z"/></clipPath><text transform="translate(51.94,364.17) scale(0.950,1.000)" font-size="42.8" clip-path="url(#k7)">10</text>
<text x="126.5" y="423.5" font-size="33" text-anchor="end">-4</text>
<clipPath id="k8"><path clip-rule="evenodd" d="M-500,-500H2000V500H-500Z M2.51,-6.90H10.70V3.00H2.51Z M14.61,-6.90H22.57V3.00H14.61Z"/></clipPath><text transform="translate(51.94,443.98) scale(0.950,1.000)" font-size="42.8" clip-path="url(#k8)">10</text>
<text x="126.5" y="503.3" font-size="33" text-anchor="end">-6</text>
<clipPath id="k9"><path clip-rule="evenodd" d="M-500,-500H2000V500H-500Z M2.51,-6.90H10.70V3.00H2.51Z M14.61,-6.90H22.57V3.00H14.61Z"/></clipPath><text transform="translate(51.94,523.80) scale(0.950,1.000)" font-size="42.8" clip-path="url(#k9)">10</text>
<text transform="translate(136.09,558.80) scale(0.950,1.000)" font-size="42.8">0</text>
<text transform="translate(292.63,558.80) scale(0.950,1.000)" font-size="42.8">50</text>
<clipPath id="k10"><path clip-rule="evenodd" d="M-500,-500H2000V500H-500Z M2.51,-6.90H10.70V3.00H2.51Z M14.61,-6.90H22.57V3.00H14.61Z"/></clipPath><text transform="translate(449.97,558.80) scale(0.950,1.000)" font-size="42.8" clip-path="url(#k10)">100</text>
<clipPath id="k11"><path clip-rule="evenodd" d="M-500,-500H2000V500H-500Z M2.51,-6.90H10.70V3.00H2.51Z M14.61,-6.90H22.57V3.00H14.61Z"/></clipPath><text transform="translate(617.81,558.80) scale(0.950,1.000)" font-size="42.8" clip-path="url(#k11)">150</text>
<text transform="translate(292.5,605.2) scale(0.935,1)" font-size="43.4">Distance[km]</text>
<text transform="translate(31.6,423.6) rotate(-90) scale(1,1.05)" x="0" y="0" font-size="41.3">Total SMD [kg/m]</text>
</svg></div></body></html>
